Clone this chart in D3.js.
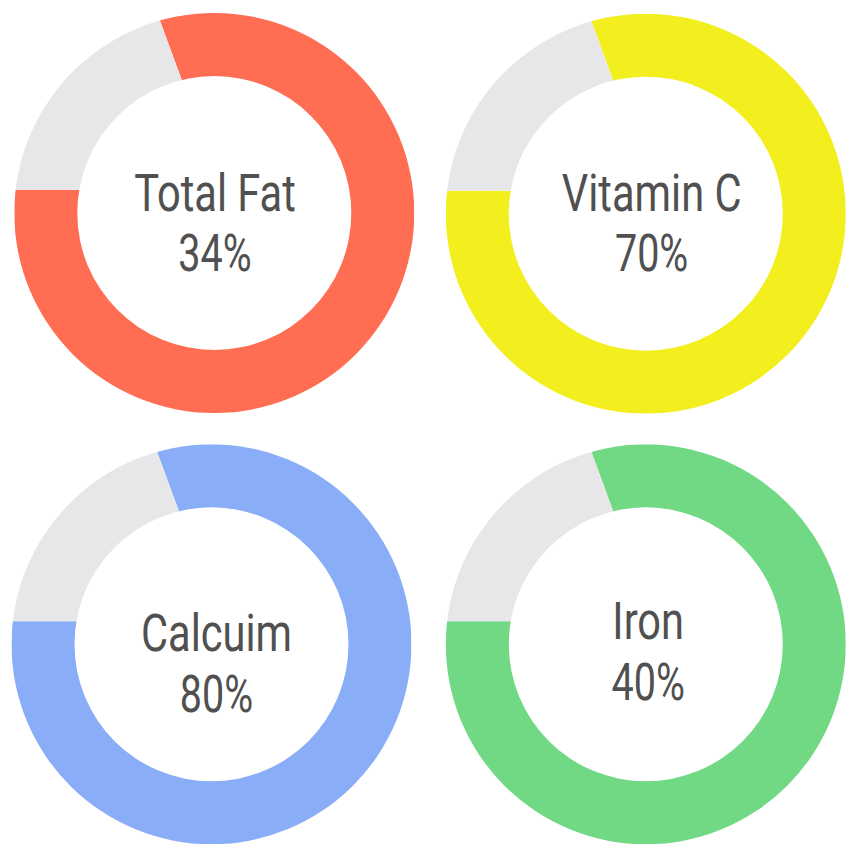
<!DOCTYPE html>
<html><head><meta charset="utf-8">
<script src="https://cdn.jsdelivr.net/npm/d3@7"></script>
<style>html,body{margin:0;padding:0;background:#fff;overflow:hidden}</style>
</head><body>
<svg id="chart" width="858" height="857"></svg>
<script>
// ---- data ----
const nutrients = ["Total Fat", "Vitamin C", "Calcuim", "Iron"];
const percentLabels = [34, 70, 80, 40];
const filledShare = [80.6, 80.6, 80.6, 80.6];
const sliceColors = ["#ff6d53", "#f3ef1f", "#8aadf7", "#71d884"];
const restColor = "#e7e7ea";

// ---- layout ----
const centers = [[214.3, 213], [645.8, 213.7], [211.5, 644.3], [645.8, 644.3]];
const textPos = [[0.7, -2.3, 57.7], [5.8, -3, 57], [5, 6.4, 67.7], [2.4, -5.6, 55.4]];
const lineScale = [0.80, 0.76];
const outerR = 200, innerR = 137;
const wedgeShift = [7.8, -23];
const startDeg = -20.16;

const svg = d3.select("#chart");
const defs = svg.append("defs");
const ring = d3.arc().innerRadius(innerR).outerRadius(outerR);
const wedge = d3.arc().innerRadius(0).outerRadius(outerR * 1.4);
const pie = d3.pie().sort(null)
  .startAngle(startDeg * Math.PI / 180)
  .endAngle(startDeg * Math.PI / 180 + 2 * Math.PI);

nutrients.forEach((name, i) => {
  const [cx, cy] = centers[i];
  const g = svg.append("g").attr("transform", `translate(${cx},${cy})`);
  defs.append("clipPath").attr("id", "ring" + i)
    .append("path")
    .attr("d", ring({startAngle: 0, endAngle: 2 * Math.PI}));
  const slices = pie([filledShare[i], 100 - filledShare[i]]);
  const sg = g.append("g").attr("clip-path", `url(#ring${i})`)
    .append("g").attr("transform", `translate(${wedgeShift[0]},${wedgeShift[1]})`);
  sg.selectAll("path").data(slices).join("path")
    .attr("d", wedge)
    .attr("fill", (d, j) => j === 0 ? sliceColors[i] : restColor);

  const [tx, y1, y2] = textPos[i];
  const lines = [name, percentLabels[i] + "%"];
  [y1, y2].forEach((yy, k) => {
    g.append("text")
      .attr("transform", `translate(${tx},${yy}) scale(${lineScale[k]},1)`)
      .attr("text-anchor", "middle")
      .attr("font-family", "Roboto, 'Open Sans', sans-serif")
      .attr("font-size", 52)
      .attr("fill", "#505050")
      .text(lines[k]);
  });
});
</script>
</body></html>
